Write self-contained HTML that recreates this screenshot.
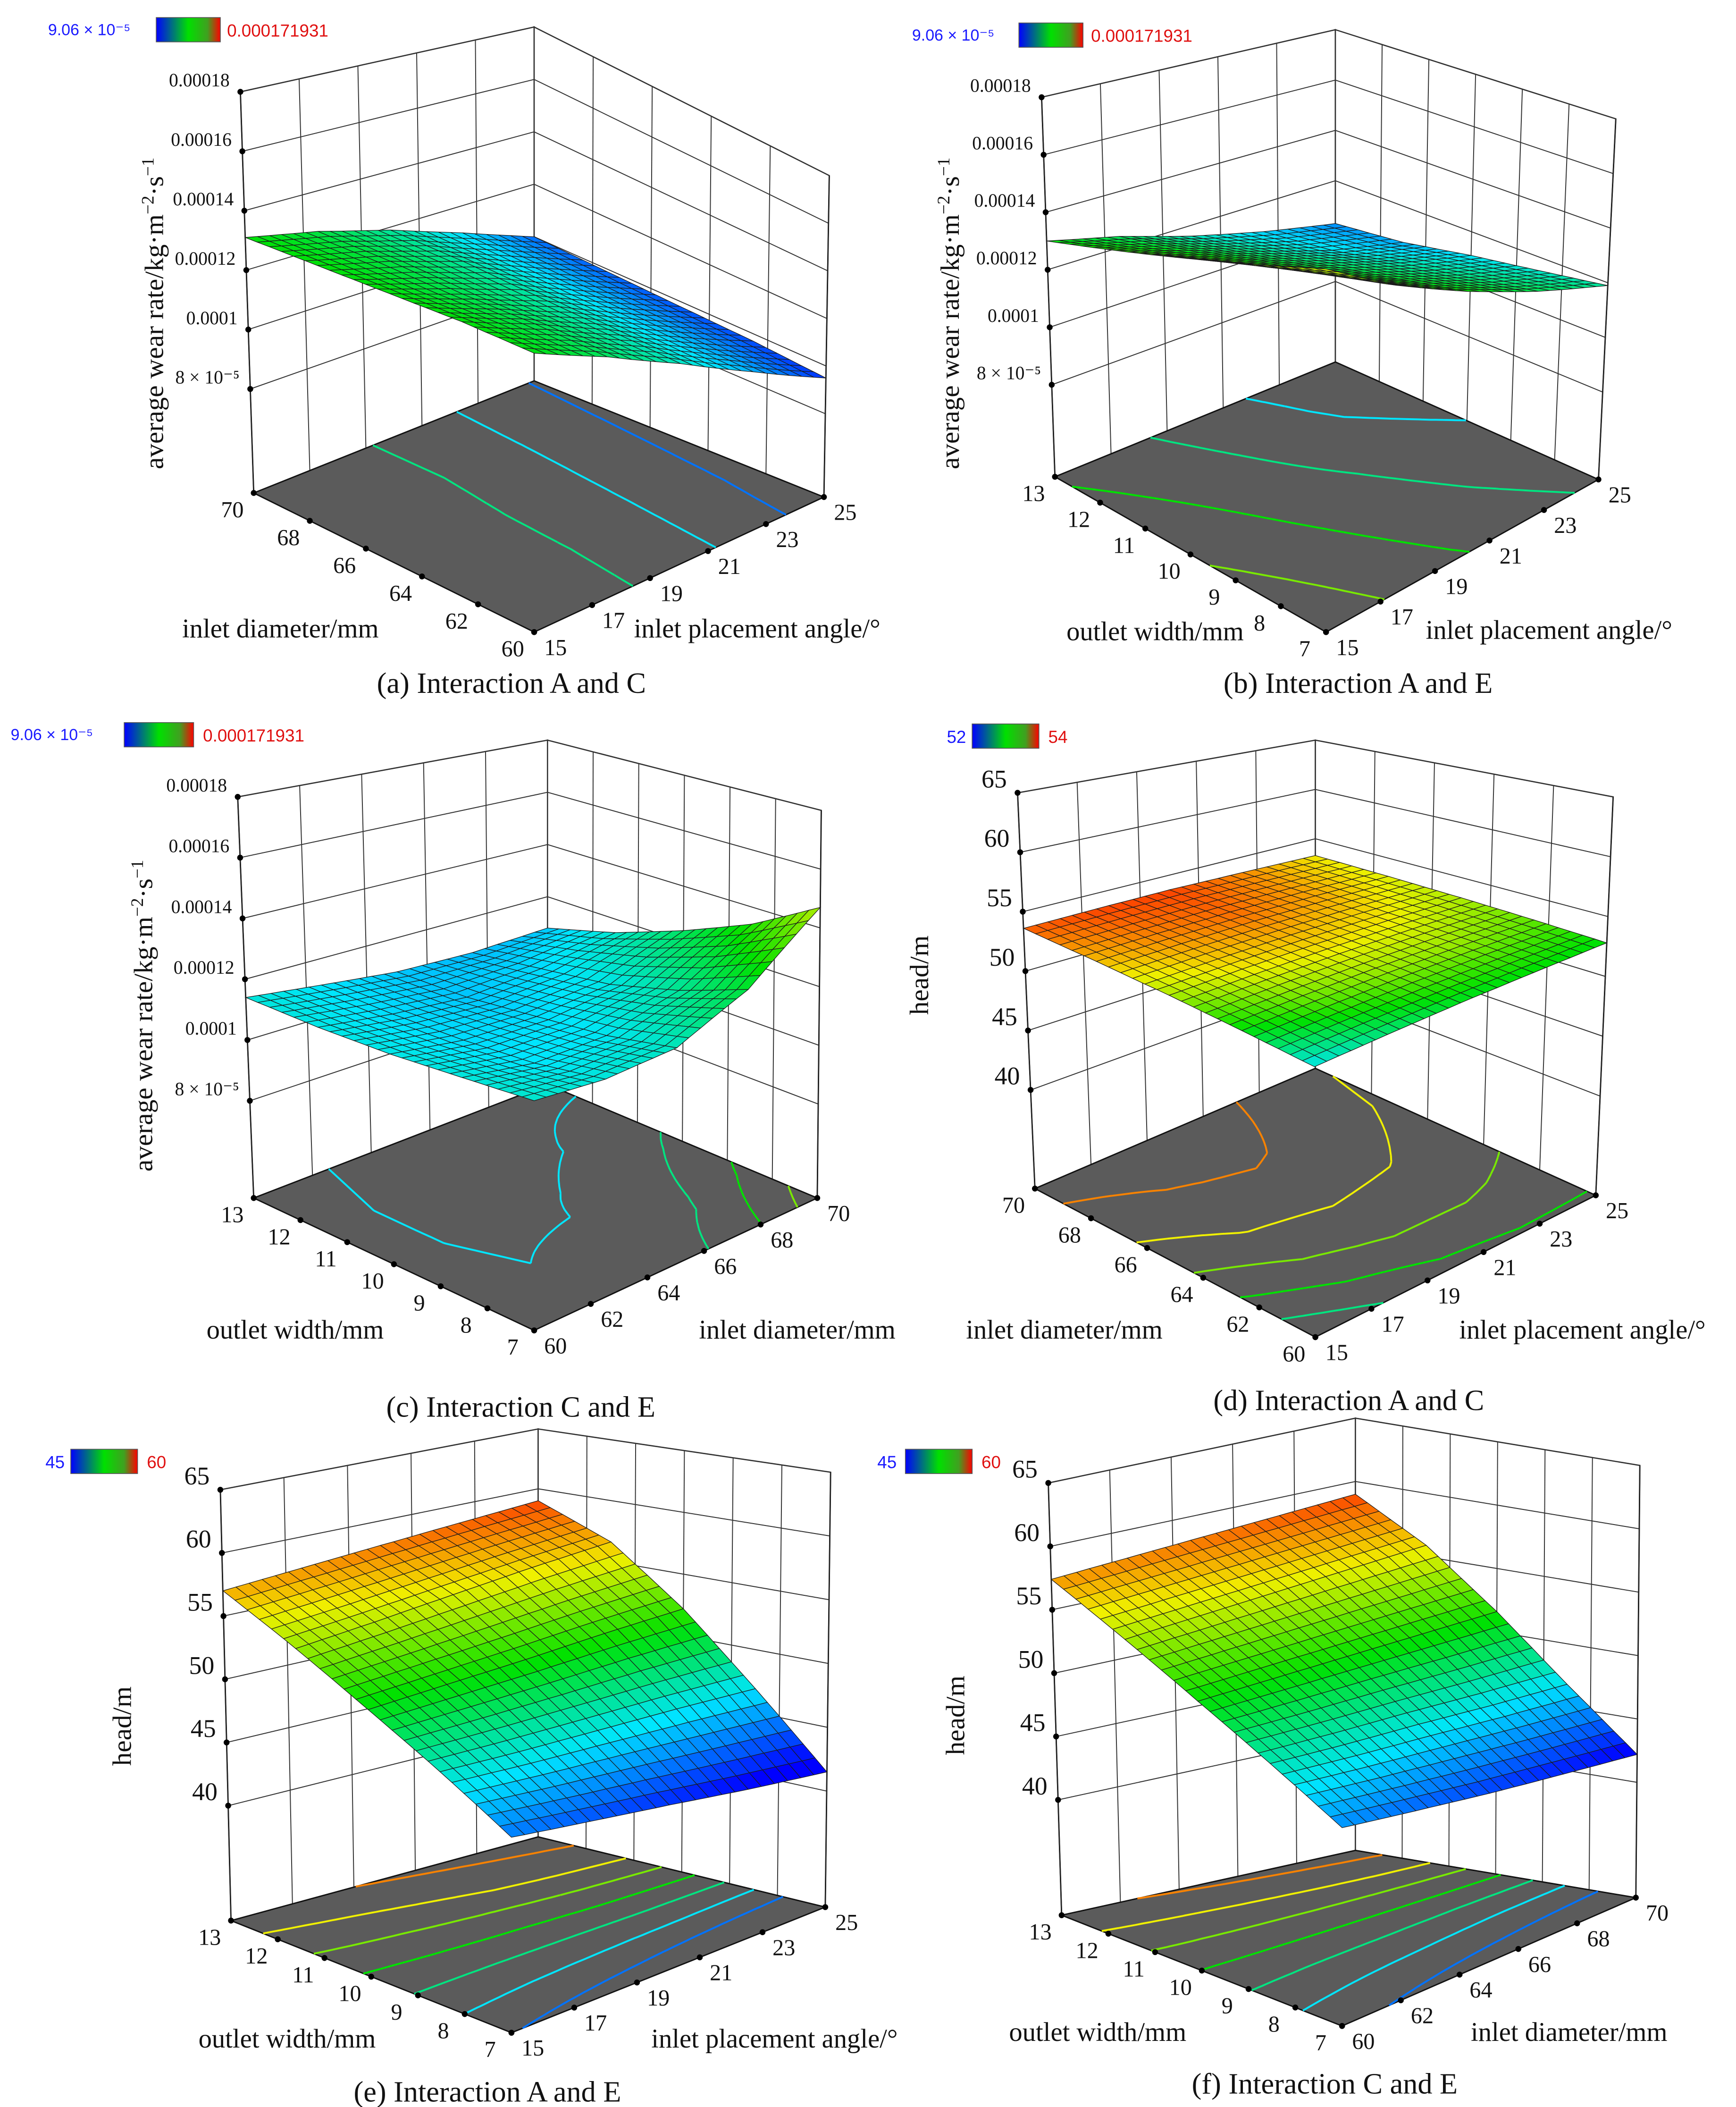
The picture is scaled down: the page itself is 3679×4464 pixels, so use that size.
<!DOCTYPE html>
<html><head><meta charset="utf-8">
<style>
html,body{margin:0;padding:0;background:#fff;}
svg{display:block;}
</style></head>
<body>
<svg id="fig" xmlns="http://www.w3.org/2000/svg" width="3679" height="4464" viewBox="0 0 1300 1560" preserveAspectRatio="none">
<defs>
<linearGradient id="cbar" x1="0" x2="1" y1="0" y2="0">
<stop offset="0" stop-color="#0000ff"/><stop offset="0.5" stop-color="#00e000"/><stop offset="0.8" stop-color="#40a020"/><stop offset="1" stop-color="#ff0000"/>
</linearGradient>
</defs>
<rect x="0" y="0" width="1300" height="1560" fill="#fff"/>
</svg>
<script>
// ---- data ----
const angleTicks=[15,17,19,21,23,25];
const diamTicks=[60,62,64,66,68,70];
const widthTicks=[7,8,9,10,11,12,13];
const wearTicks=[0.00008,0.0001,0.00012,0.00014,0.00016,0.00018];
const wearTickLabels=['8 × 10⁻⁵','0.0001','0.00012','0.00014','0.00016','0.00018'];
const headTicks=[40,45,50,55,60,65];
const headTickLabels=['40','45','50','55','60','65'];
// surfaces: rows = second factor (front->left), cols = first factor (front->right)
const surfA=[
 [0.000130,0.000124,0.000116,0.000106,0.000095],
 [0.000131,0.000125,0.000117,0.000107,0.000097],
 [0.000131,0.000125,0.000118,0.000108,0.000098],
 [0.000131,0.000126,0.000119,0.000109,0.000099],
 [0.000131,0.000126,0.000119,0.000110,0.000100]];
const surfB=[
 [0.000150,0.000140,0.000132,0.000125,0.000119],
 [0.000145,0.000136,0.000128,0.000121,0.000115],
 [0.000140,0.000132,0.000124,0.000117,0.000111],
 [0.000135,0.000128,0.000120,0.000112,0.000106],
 [0.000130,0.000124,0.000116,0.000109,0.000103]];
const surfC=[
 [0.000115,0.000114,0.000116,0.000127,0.000147],
 [0.000114,0.000111,0.000112,0.000119,0.000134],
 [0.000113,0.000110,0.000110,0.000113,0.000124],
 [0.000113,0.000110,0.000108,0.000110,0.000115],
 [0.000114,0.000111,0.000108,0.000107,0.000108]];
const surfD=[
 [52.40,52.60,52.75,52.80,52.80],
 [52.80,53.00,53.10,53.10,53.00],
 [53.15,53.30,53.35,53.30,53.15],
 [53.40,53.50,53.55,53.45,53.25],
 [53.60,53.65,53.65,53.50,53.30]];
const surfE=[
 [44.8,44.0,43.2,42.3,41.5],
 [47.9,47.6,47.4,47.2,46.9],
 [50.9,51.2,51.5,51.9,52.2],
 [54.0,54.6,55.3,56.0,56.6],
 [57.0,57.5,58.0,58.5,59.0]];
const surfF=[
 [45.2,44.4,43.6,42.9,42.2],
 [48.2,47.8,47.5,47.1,46.8],
 [51.2,51.3,51.4,51.5,51.6],
 [54.3,54.7,55.1,55.5,55.9],
 [57.4,57.8,58.2,58.6,59.0]];

// ---- panel layout (styling/geometry) ----
const panels=[
 {key:'a',uT:angleTicks,vT:diamTicks,zT:wearTicks,zL:wearTickLabels,grid:surfA,zbot:4.5e-5,ztop:1.8e-4,cmin:9.06e-5,cmax:1.71931e-4,
  F:[[400,468],[617,368],[400,282],[190,365]],T:[[400,140],[621,130],[400,20],[180,68]],zfs:14},
 {key:'b',uT:angleTicks,vT:widthTicks,zT:wearTicks,zL:wearTickLabels,grid:surfB,zbot:4.8e-5,ztop:1.8e-4,cmin:9.06e-5,cmax:1.71931e-4,
  F:[[993,468],[1197,355],[1000,268],[790,353]],T:[[993,120],[1210,88],[1000,22],[780,72]],zfs:14},
 {key:'c',uT:diamTicks,vT:widthTicks,zT:wearTicks,zL:wearTickLabels,grid:surfC,zbot:4.8e-5,ztop:1.8e-4,cmin:9.06e-5,cmax:1.71931e-4,
  F:[[400,985],[612,887],[410,803],[190,887]],T:[[400,650],[615,600],[410,548],[178,590]],zfs:14},
 {key:'d',uT:angleTicks,vT:diamTicks,zT:headTicks,zL:headTickLabels,grid:surfD,zbot:31.7,ztop:65,cmin:51.9,cmax:53.75,
  F:[[985,990],[1195,885],[985,791],[775,880]],T:[[984,668],[1208,590],[985,548],[762,587]],zfs:19},
 {key:'e',uT:angleTicks,vT:widthTicks,zT:headTicks,zL:headTickLabels,grid:surfE,zbot:30.9,ztop:65,cmin:42.5,cmax:60,
  F:[[383,1505],[618,1412],[403,1360],[173,1422]],T:[[383,1150],[622,1090],[403,1058],[165,1103]],zfs:19},
 {key:'f',uT:diamTicks,vT:widthTicks,zT:headTicks,zL:headTickLabels,grid:surfF,zbot:30.9,ztop:65,cmin:42.5,cmax:60,
  F:[[1005,1500],[1225,1405],[1015,1370],[795,1418]],T:[[1005,1150],[1228,1085],[1015,1050],[785,1098]],zfs:19}
];

const NS='http://www.w3.org/2000/svg';
const svg=document.getElementById('fig');
function mk(tag,attrs,parent){const e=document.createElementNS(NS,tag);for(const k in attrs)e.setAttribute(k,attrs[k]);(parent||svg).appendChild(e);return e;}
function cm(t){t=Math.max(0,Math.min(1,t));
 const s=[[0,0,0,255],[0.25,0,230,255],[0.5,0,225,0],[0.75,240,240,0],[1,255,20,0]];
 for(let i=1;i<s.length;i++){if(t<=s[i][0]){const a=s[i-1],b=s[i],f=(t-a[0])/(b[0]-a[0]);
  return 'rgb('+Math.round(a[1]+(b[1]-a[1])*f)+','+Math.round(a[2]+(b[2]-a[2])*f)+','+Math.round(a[3]+(b[3]-a[3])*f)+')';}}
 return 'rgb(255,20,0)';}
function bil(Q,u,v){return [Q[0][0]*(1-u)*(1-v)+Q[1][0]*u*(1-v)+Q[2][0]*u*v+Q[3][0]*(1-u)*v,
 Q[0][1]*(1-u)*(1-v)+Q[1][1]*u*(1-v)+Q[2][1]*u*v+Q[3][1]*(1-u)*v];}
function P(p,u,v,w){const b=bil(p.F,u,v),t=bil(p.T,u,v);return [b[0]+(t[0]-b[0])*w,b[1]+(t[1]-b[1])*w];}
function val(g,u,v){const R=g.length-1,C=g[0].length-1;let x=u*C,y=v*R;let i=Math.min(Math.floor(x),C-1),j=Math.min(Math.floor(y),R-1);
 const fx=x-i,fy=y-j;return g[j][i]*(1-fx)*(1-fy)+g[j][i+1]*fx*(1-fy)+g[j+1][i]*(1-fx)*fy+g[j+1][i+1]*fx*fy;}
function pts(a){return a.map(p=>p[0].toFixed(1)+','+p[1].toFixed(1)).join(' ');}
const SERIF='Liberation Serif, serif';

panels.forEach(p=>{
 const g=mk('g',{});
 
 
 const W=z=>(z-p.zbot)/(p.ztop-p.zbot);
 const u0=p.uT[0],u1=p.uT[p.uT.length-1],v0=p.vT[0],v1=p.vT[p.vT.length-1];
 const U=x=>(x-u0)/(u1-u0),V=x=>(x-v0)/(v1-v0);
 const wl=mk('polygon',{points:pts([P(p,0,1,0),P(p,1,1,0),P(p,1,1,1),P(p,0,1,1)]),fill:'#fff',stroke:'#222','stroke-width':0.9},g);
 
 
 const wr=mk('polygon',{points:pts([P(p,1,0,0),P(p,1,1,0),P(p,1,1,1),P(p,1,0,1)]),fill:'#fff',stroke:'#222','stroke-width':0.9},g);
 
 
 const gl=mk('g',{stroke:'#333','stroke-width':0.7,fill:'none'},g);
 
 
 p.uT.forEach(t=>{const a=P(p,U(t),1,0),b=P(p,U(t),1,1);mk('line',{x1:a[0],y1:a[1],x2:b[0],y2:b[1]},gl);});
 p.vT.forEach(t=>{const a=P(p,1,V(t),0),b=P(p,1,V(t),1);mk('line',{x1:a[0],y1:a[1],x2:b[0],y2:b[1]},gl);});
 p.zT.forEach(t=>{const w=W(t),a=P(p,0,1,w),b=P(p,1,1,w),c=P(p,1,0,w);mk('polyline',{points:pts([a,b,c])},gl);});
 [[0,1],[1,0]].forEach(e=>{const a=P(p,e[0],e[1],0),b=P(p,e[0],e[1],1);mk('line',{x1:a[0],y1:a[1],x2:b[0],y2:b[1],stroke:'#222','stroke-width':1},g);});
 const fl=mk('polygon',{points:pts([P(p,0,0,0),P(p,1,0,0),P(p,1,1,0),P(p,0,1,0)]),fill:'#5b5b5b',stroke:'#111','stroke-width':1},g);
 
 
 const N=40,vals=[];
 for(let j=0;j<=N;j++){vals.push([]);for(let i=0;i<=N;i++)vals[j].push(val(p.grid,i/N,j/N));}
 const cg=mk('g',{fill:'none','stroke-width':1.4},g);
 
 
 for(let k=1;k<8;k++){const L=p.cmin+k*(p.cmax-p.cmin)/8;let d='';
  for(let j=0;j<N;j++)for(let i=0;i<N;i++){
   const c=[[i,j],[i+1,j],[i+1,j+1],[i,j+1]],cross=[];
   for(let e=0;e<4;e++){const A=c[e],B=c[(e+1)%4],va=vals[A[1]][A[0]],vb=vals[B[1]][B[0]];
    if((va<L)!==(vb<L)){const f=(L-va)/(vb-va);cross.push([(A[0]+(B[0]-A[0])*f)/N,(A[1]+(B[1]-A[1])*f)/N]);}}
   for(let q=0;q+1<cross.length;q+=2){const a=P(p,cross[q][0],cross[q][1],0),b=P(p,cross[q+1][0],cross[q+1][1],0);
    d+='M'+a[0].toFixed(1)+' '+a[1].toFixed(1)+'L'+b[0].toFixed(1)+' '+b[1].toFixed(1);}}
  if(d){const pa=mk('path',{d:d,stroke:cm((L-p.cmin)/(p.cmax-p.cmin))},cg);
   
   }}
 const M=24,quads=[];
 for(let j=0;j<M;j++)for(let i=0;i<M;i++)quads.push([i,j]);
 quads.sort((a,b)=>(b[0]+b[1])-(a[0]+a[1]));
 const sg=mk('g',{stroke:'#1a1a1a','stroke-width':0.45},g);
 
 
 quads.forEach(q=>{const i=q[0],j=q[1];
  const cs=[[i,j],[i+1,j],[i+1,j+1],[i,j+1]].map(c=>{const z=val(p.grid,c[0]/M,c[1]/M);return [c[0]/M,c[1]/M,z];});
  const zc=(cs[0][2]+cs[1][2]+cs[2][2]+cs[3][2])/4;
  const poly=mk('polygon',{points:pts(cs.map(c=>P(p,c[0],c[1],W(c[2])))),fill:cm((zc-p.cmin)/(p.cmax-p.cmin))},sg);
  
  });
 const tg=mk('g',{'font-family':SERIF,fill:'#111'},g);
 
 
 p.uT.forEach(t=>{const a=P(p,U(t),0,0);mk('circle',{cx:a[0],cy:a[1],r:2.2,fill:'#000'},tg);
  const tx=mk('text',{x:a[0]+16,y:a[1]+17,'font-size':17,'text-anchor':'middle','font-family':SERIF},tg);tx.textContent=t;
  
  });
 p.vT.forEach(t=>{const a=P(p,0,V(t),0);mk('circle',{cx:a[0],cy:a[1],r:2.2,fill:'#000'},tg);
  const tx=mk('text',{x:a[0]-16,y:a[1]+18,'font-size':17,'text-anchor':'middle','font-family':SERIF},tg);tx.textContent=t;
  
  });
 p.zT.forEach((t,k)=>{const a=P(p,0,1,W(t));mk('circle',{cx:a[0],cy:a[1],r:2.2,fill:'#000'},tg);
  const tx=mk('text',{x:a[0]-8,y:a[1]-4,'font-size':p.zfs,'text-anchor':'end','font-family':SERIF},tg);tx.textContent=p.zL[k];
  
  });
});
</script>
<svg style="position:absolute;left:0;top:0" width="3679" height="4464" viewBox="0 0 1300 1560" preserveAspectRatio="none" xmlns="http://www.w3.org/2000/svg">
<g font-family="Liberation Serif, serif" fill="#111">
 <g><text x="36" y="26" fill="#1a1aff" font-family="Liberation Sans, sans-serif" font-size="12">9.06 × 10⁻⁵</text><rect x="117" y="13" width="48" height="18" fill="url(#cbar)" stroke="#555" stroke-width="0.6"/><text x="170" y="27" fill="#e01010" font-family="Liberation Sans, sans-serif" font-size="13">0.000171931</text></g>
 <text transform="translate(122,232) rotate(-90)" text-anchor="middle" font-size="20">average wear rate/kg·m<tspan font-size="13" dy="-7">−2</tspan><tspan dy="7">·s</tspan><tspan font-size="13" dy="-7">−1</tspan></text>
 <text x="210" y="472" text-anchor="middle" font-size="20">inlet diameter/mm</text>
 <text x="567" y="472" text-anchor="middle" font-size="20">inlet placement angle/°</text>
 <text x="383" y="513" text-anchor="middle" font-size="22">(a) Interaction A and C</text>
 <g><text x="683" y="30" fill="#1a1aff" font-family="Liberation Sans, sans-serif" font-size="12">9.06 × 10⁻⁵</text><rect x="763" y="17" width="48" height="18" fill="url(#cbar)" stroke="#555" stroke-width="0.6"/><text x="817" y="31" fill="#e01010" font-family="Liberation Sans, sans-serif" font-size="13">0.000171931</text></g>
 <text transform="translate(718,232) rotate(-90)" text-anchor="middle" font-size="20">average wear rate/kg·m<tspan font-size="13" dy="-7">−2</tspan><tspan dy="7">·s</tspan><tspan font-size="13" dy="-7">−1</tspan></text>
 <text x="865" y="474" text-anchor="middle" font-size="20">outlet width/mm</text>
 <text x="1160" y="473" text-anchor="middle" font-size="20">inlet placement angle/°</text>
 <text x="1017" y="513" text-anchor="middle" font-size="22">(b) Interaction A and E</text>
 <g><text x="8" y="548" fill="#1a1aff" font-family="Liberation Sans, sans-serif" font-size="12">9.06 × 10⁻⁵</text><rect x="93" y="535" width="52" height="18" fill="url(#cbar)" stroke="#555" stroke-width="0.6"/><text x="152" y="549" fill="#e01010" font-family="Liberation Sans, sans-serif" font-size="13">0.000171931</text></g>
 <text transform="translate(114,752) rotate(-90)" text-anchor="middle" font-size="20">average wear rate/kg·m<tspan font-size="13" dy="-7">−2</tspan><tspan dy="7">·s</tspan><tspan font-size="13" dy="-7">−1</tspan></text>
 <text x="221" y="991" text-anchor="middle" font-size="20">outlet width/mm</text>
 <text x="597" y="991" text-anchor="middle" font-size="20">inlet diameter/mm</text>
 <text x="390" y="1049" text-anchor="middle" font-size="22">(c) Interaction C and E</text>
 <g><text x="709" y="550" fill="#1a1aff" font-family="Liberation Sans, sans-serif" font-size="13">52</text><rect x="728" y="536" width="50" height="18" fill="url(#cbar)" stroke="#555" stroke-width="0.6"/><text x="785" y="550" fill="#e01010" font-family="Liberation Sans, sans-serif" font-size="13">54</text></g>
 <text transform="translate(695,722) rotate(-90)" text-anchor="middle" font-size="20">head/m</text>
 <text x="797" y="991" text-anchor="middle" font-size="20">inlet diameter/mm</text>
 <text x="1185" y="991" text-anchor="middle" font-size="20">inlet placement angle/°</text>
 <text x="1010" y="1044" text-anchor="middle" font-size="22">(d) Interaction A and C</text>
 <g><text x="34" y="1087" fill="#1a1aff" font-family="Liberation Sans, sans-serif" font-size="13">45</text><rect x="53" y="1073" width="50" height="18" fill="url(#cbar)" stroke="#555" stroke-width="0.6"/><text x="110" y="1087" fill="#e01010" font-family="Liberation Sans, sans-serif" font-size="13">60</text></g>
 <text transform="translate(98,1278) rotate(-90)" text-anchor="middle" font-size="20">head/m</text>
 <text x="215" y="1516" text-anchor="middle" font-size="20">outlet width/mm</text>
 <text x="580" y="1516" text-anchor="middle" font-size="20">inlet placement angle/°</text>
 <text x="365" y="1556" text-anchor="middle" font-size="22">(e) Interaction A and E</text>
 <g><text x="657" y="1087" fill="#1a1aff" font-family="Liberation Sans, sans-serif" font-size="13">45</text><rect x="678" y="1073" width="50" height="18" fill="url(#cbar)" stroke="#555" stroke-width="0.6"/><text x="735" y="1087" fill="#e01010" font-family="Liberation Sans, sans-serif" font-size="13">60</text></g>
 <text transform="translate(722,1270) rotate(-90)" text-anchor="middle" font-size="20">head/m</text>
 <text x="822" y="1511" text-anchor="middle" font-size="20">outlet width/mm</text>
 <text x="1175" y="1511" text-anchor="middle" font-size="20">inlet diameter/mm</text>
 <text x="992" y="1550" text-anchor="middle" font-size="22">(f) Interaction C and E</text>
</g>
</svg>
</body></html>
